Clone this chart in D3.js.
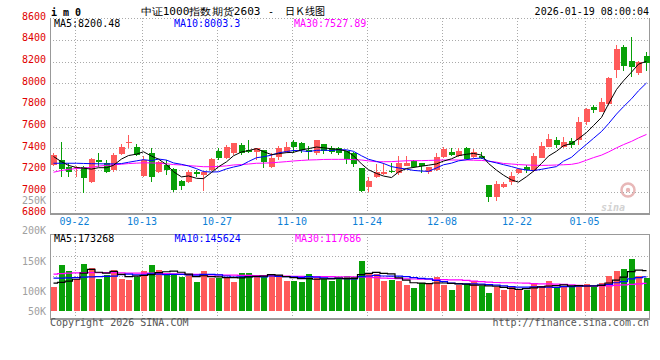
<!DOCTYPE html>
<html><head><meta charset="utf-8">
<script src="https://cdn.jsdelivr.net/npm/d3@7"></script>
<style>
body{margin:0;background:#fff}
svg{display:block}
text{font-family:"DejaVu Sans Mono",monospace;font-size:10px}
</style></head><body>
<svg id="chart" width="660" height="360"></svg>
<script>
// daily OHLC, 2025-09-17 .. 2026-01-16
const open  = [7246,7292,7230,7215,7230,7089,7292,7262,7200,7347, 7450,7409,7144,7354,7184,7246,7206,7098,7092,7178,
               7153,7200,7375,7310,7354,7430,7380,7369,7384,7230, 7317,7369,7461,7446,7384,7354,7440,7400,7400,7378,
               7354,7221,7046,7132,7166,7190,7175,7240,7282,7262, 7184,7200,7322,7369,7330,7400,7322,7330,7061,6953,
               7040,7092,7175,7225,7193,7307,7415,7477,7415,7467, 7477,7646,7784,7738,7809,8123,8338,8206,8092,8252];
const high  = [7357,7461,7264,7240,7235,7308,7354,7292,7357,7437, 7523,7440,7330,7400,7280,7292,7215,7107,7200,7200,
               7190,7308,7400,7430,7446,7450,7476,7400,7384,7354, 7421,7461,7477,7461,7421,7477,7440,7420,7410,7378,
               7370,7221,7138,7255,7260,7260,7330,7330,7290,7262, 7230,7360,7410,7400,7400,7410,7390,7369,7061,7098,
               7092,7184,7215,7246,7359,7461,7532,7501,7501,7492, 7692,7775,7800,7862,8062,8354,8354,8430,8209,8292];
const low   = [7240,7132,7135,7135,6990,7083,7230,7169,7180,7338, 7400,7327,7135,7092,7170,7154,7000,7015,7083,7138,
               7006,7195,7290,7300,7340,7340,7354,7292,7215,7220, 7292,7360,7354,7354,7292,7340,7350,7350,7340,7255,
               7230,7000,7000,7123,7153,7169,7154,7240,7215,7169, 7166,7190,7307,7325,7320,7290,7313,7298,6907,6916,
               7030,7061,7166,7175,7184,7307,7409,7400,7400,7400, 7430,7615,7729,7732,7800,8046,8116,8061,8077,8114];
const close = [7338,7206,7184,7228,7123,7298,7271,7184,7338,7415, 7455,7338,7292,7138,7276,7200,7015,7052,7184,7166,
               7184,7298,7313,7415,7446,7360,7362,7400,7276,7310, 7400,7415,7415,7384,7369,7477,7378,7369,7354,7298,
               7255,7006,7098,7184,7178,7184,7262,7262,7230,7237, 7230,7322,7390,7338,7378,7298,7363,7307,6953,7070,
               7068,7144,7206,7200,7329,7421,7483,7430,7455,7430, 7646,7763,7754,7830,8052,8317,8162,8154,8200,8184];
// volume, thousand lots
const volume = [104,197,171,136,201,184,136,154,176,137, 133,144,171,197,176,154,157,147,154,124,
                171,141,140,141,124,163,163,150,144,158, 153,130,130,124,158,140,136,130,140,151,
                144,214,158,158,130,133,130,111,100,121, 121,147,110, 90,111,116,130,108, 77,101,
                 90,107, 90, 90,119,107,128,101,104,101, 113,117,101,120,151,171,180,223,151,141];
// moving averages as drawn on the chart
const ma5 = [7324,7276,7242,7223,7216,7208,7221,7221,7243,7301, 7333,7346,7368,7328,7300,7249,7184,7136,7145,7123,
             7120,7177,7229,7275,7331,7366,7379,7397,7369,7342, 7350,7360,7363,7385,7397,7412,7405,7395,7389,7375,
             7331,7256,7202,7168,7144,7130,7181,7214,7223,7235, 7244,7256,7282,7303,7332,7345,7353,7337,7260,7198,
             7152,7108,7088,7138,7189,7260,7328,7373,7424,7444, 7489,7545,7610,7685,7809,7943,8023,8103,8177,8203];
const ma10 = [7262,7262,7262,7262,7260,7258,7257,7256,7256,7259, 7271,7284,7295,7286,7301,7291,7265,7252,7237,7212,
              7185,7181,7183,7210,7227,7243,7278,7313,7322,7337, 7358,7370,7380,7377,7370,7381,7383,7379,7387,7386,
              7372,7331,7299,7279,7260,7231,7219,7208,7196,7190, 7187,7219,7248,7263,7284,7295,7305,7310,7282,7265,
              7249,7231,7213,7199,7194,7206,7218,7231,7281,7317, 7375,7437,7492,7555,7627,7716,7784,7857,7931,8003];
const ma30 = [7179,7195,7206,7213,7218,7225,7236,7242,7248,7253, 7259,7263,7266,7265,7262,7257,7250,7246,7240,7235,
              7230,7230,7232,7238,7246,7250,7255,7262,7263,7266, 7271,7277,7283,7288,7292,7294,7297,7298,7298,7298,
              7296,7292,7284,7276,7276,7277,7281,7285,7286,7286, 7288,7290,7292,7292,7292,7292,7290,7288,7282,7272,
              7260,7255,7250,7246,7244,7242,7243,7246,7248,7252, 7264,7290,7314,7337,7366,7404,7434,7464,7496,7528];
const vma5 = [119,123,128,136,162,178,166,162,170,157, 147,149,152,156,164,168,171,166,158,147,
              151,147,146,143,143,142,146,148,149,156, 154,147,143,139,139,136,138,138,141,139,
              140,156,161,165,161,159,142,132,121,119, 117,120,120,118,116,115,111,111,108,106,
              101, 97, 93, 96, 99,103,107,109,112,108, 109,107,107,110,120,132,145,169,175,173];
const vma10 = [141,141,142,143,145,146,147,148,149,156, 158,155,155,159,158,156,157,157,155,154,
               157,157,155,150,145,146,147,147,146,150, 148,147,146,144,147,145,142,140,140,139,
               138,147,150,153,150,149,149,147,143,140, 138,131,126,119,117,116,116,115,113,111,
               108,104,102,102,103,102,102,101,104,104, 106,107,108,111,114,121,126,138,143,146];
const vma30 = [158,160,162,163,164,164,164,164,164,163, 162,162,162,162,161,160,159,158,157,157,
               156,155,155,154,154,153,153,152,152,151, 150,149,148,148,147,147,147,147,146,146,
               146,146,145,143,141,140,139,138,137,136, 136,135,134,133,133,131,128,126,124,122,
               121,121,120,119,117,116,116,115,114,112, 110,109,107,107,108,110,112,114,116,118];

const priceTicks = [6800,7000,7200,7400,7600,7800,8000,8200,8400,8600];
const volTicks = [250,200,150,100,50];
const dateLabels = ["09-22","10-13","10-27","11-10","11-24","12-08","12-22","01-05"];
const dateIdx = [3,12,22,32,42,52,62,71];
const priceLegend = [["MA5:8200.48","#000"],["MA10:8003.3","#0000ff"],["MA30:7527.89","#ff00ff"]];
const volLegend = [["MA5:173268","#000"],["MA10:145624","#0000ff"],["MA30:117686","#ff00ff"]];

const RED='#ff5a5a', GREEN='#08a008', GRID='#aaa', FRAME='#999';
const L=50, R=650, PT=18.3, PB=213.3, VT=234.3, VB=318.3;
const svg=d3.select('#chart');
const N=close.length;
const x=d3.scaleBand().domain(d3.range(N)).range([L,R]).paddingInner(0.2).paddingOuter(0.1).align(0);
const cx=i=>Math.round(x(i))+3.5;
const y=d3.scaleLinear().domain([6800,8600]).range([PB,PT]);
const yv=d3.scaleLinear().domain([0,300]).range([311,311-300*0.2335]);
const yvLab=d3.scaleLinear().domain([0,250]).range([352,199.5]); // sina puts its vol labels on its own scale
const px=v=>Math.round(v)+0.5;

// header
svg.append('text').attr('x',51).attr('y',15.5).attr('font-size',11).attr('font-weight','bold').text('i m 0');
const title=svg.append('text').attr('y',14.5).attr('font-size',13)
  .attr('font-family','"Liberation Serif","Noto Sans CJK SC",serif');
title.append('tspan').attr('x',140.5).attr('textLength',120).attr('lengthAdjust','spacingAndGlyphs').text('中证1000指数期货2603');
title.append('tspan').attr('x',268).text('-');
title.append('tspan').attr('x',285).attr('font-family','"Noto Sans CJK SC"').text('日Ｋ线图');
svg.append('text').attr('x',649).attr('y',15).attr('text-anchor','end').text('2026-01-19 08:00:04');

// sina watermark
const wm=svg.append('g');
wm.append('circle').attr('cx',628).attr('cy',190).attr('r',6.5).attr('fill','none').attr('stroke','#e8b8b8').attr('stroke-width',2.5);
wm.append('circle').attr('cx',628).attr('cy',190).attr('r',2.2).attr('fill','#e8b8b8');
wm.append('text').attr('x',601).attr('y',211).attr('font-family','"DejaVu Sans"').attr('font-size',19)
  .attr('font-style','italic').attr('font-weight','bold').attr('fill','#d2d2d2').text('sina');

// grids
const grid=svg.append('g').attr('stroke',GRID).attr('stroke-dasharray','1,2').attr('shape-rendering','crispEdges');
priceTicks.filter(v=>v>6800).forEach(v=>grid.append('line').attr('x1',L).attr('x2',R).attr('y1',px(y(v))).attr('y2',px(y(v))));
dateIdx.forEach(i=>{
  const gx=px(x(i)+2);
  grid.append('line').attr('x1',gx).attr('x2',gx).attr('y1',PT).attr('y2',PB);
  grid.append('line').attr('x1',gx).attr('x2',gx).attr('y1',VT).attr('y2',VB);
});
[255.7,275.7,295.7].forEach(gy=>grid.append('line').attr('x1',L).attr('x2',R).attr('y1',px(gy)).attr('y2',px(gy)));

// frames
const fr=svg.append('g').attr('stroke',FRAME).attr('shape-rendering','crispEdges');
fr.append('line').attr('x1',50.5).attr('x2',50.5).attr('y1',PT).attr('y2',PB);
fr.append('line').attr('x1',649.5).attr('x2',649.5).attr('y1',PT).attr('y2',PB);
fr.append('line').attr('x1',L).attr('x2',R).attr('y1',213.5).attr('y2',213.5).attr('stroke-width',2);
fr.append('line').attr('x1',L).attr('x2',R).attr('y1',234.5).attr('y2',234.5);
fr.append('line').attr('x1',50.5).attr('x2',50.5).attr('y1',VT).attr('y2',VB);
fr.append('line').attr('x1',649.5).attr('x2',649.5).attr('y1',VT).attr('y2',VB);
fr.append('line').attr('x1',L).attr('x2',R).attr('y1',318.5).attr('y2',318.5).attr('stroke-width',2);

// axis labels
svg.append('g').attr('fill','#e00000').selectAll('text').data(priceTicks).join('text')
  .attr('x',46).attr('y',d=>y(d)+1.5).attr('text-anchor','end').text(d=>d);
svg.append('g').attr('fill','#a0a0a0').selectAll('text').data(volTicks).join('text')
  .attr('x',46).attr('y',d=>Math.min(yvLab(d)+4,314.5)).attr('text-anchor','end').text(d=>d+'K');
svg.append('g').attr('fill','#0e7fd6').selectAll('text').data(dateLabels).join('text')
  .attr('x',(d,k)=>x(dateIdx[k])+2).attr('y',224.5).attr('text-anchor','middle').text(d=>d);

// candles
const up=i=>close[i]>=open[i];
const cg=svg.append('g').attr('shape-rendering','crispEdges');
cg.selectAll('line').data(d3.range(N)).join('line')
  .attr('x1',cx).attr('x2',cx).attr('y1',i=>y(high[i])).attr('y2',i=>y(low[i]))
  .attr('stroke',i=>up(i)?RED:GREEN);
cg.selectAll('rect').data(d3.range(N)).join('rect')
  .attr('x',i=>Math.round(x(i))+0.5).attr('width',x.bandwidth())
  .attr('y',i=>y(Math.max(open[i],close[i])))
  .attr('height',i=>Math.max(1,Math.abs(y(open[i])-y(close[i]))))
  .attr('fill',i=>up(i)?RED:GREEN);

// price MAs
const pl=d3.line().x((d,i)=>cx(i)).y(d=>y(d));
[[ma30,'#ff00ff'],[ma10,'#0000ff'],[ma5,'#000']].forEach(([s,c])=>
  svg.append('path').attr('d',pl(s)).attr('fill','none').attr('stroke',c).attr('stroke-width',1));

// volume bars
svg.append('g').attr('shape-rendering','crispEdges').selectAll('rect').data(d3.range(N)).join('rect')
  .attr('x',i=>Math.round(x(i))+0.5).attr('width',x.bandwidth())
  .attr('y',i=>yv(volume[i])).attr('height',i=>yv(0)-yv(volume[i]))
  .attr('fill',i=>up(i)?RED:GREEN);
const vl=d3.line().curve(d3.curveStep).x((d,i)=>cx(i)).y(d=>yv(d));
[[vma30,'#ff00ff'],[vma10,'#0000ff'],[vma5,'#000']].forEach(([s,c])=>
  svg.append('path').attr('d',vl(s)).attr('fill','none').attr('stroke',c).attr('stroke-width',1.2));

// legends
priceLegend.forEach(([t,c],k)=>svg.append('text').attr('x',54+k*120).attr('y',27).attr('fill',c).text(t));
volLegend.forEach(([t,c],k)=>svg.append('text').attr('x',54+k*120.5).attr('y',242).attr('fill',c).text(t));

// footer
svg.append('text').attr('x',50).attr('y',325.5).attr('fill','#555').text('Copyright 2026 SINA.COM');
svg.append('text').attr('x',649).attr('y',325.5).attr('fill','#555').attr('text-anchor','end').text('http://finance.sina.com.cn');
</script>
</body></html>
